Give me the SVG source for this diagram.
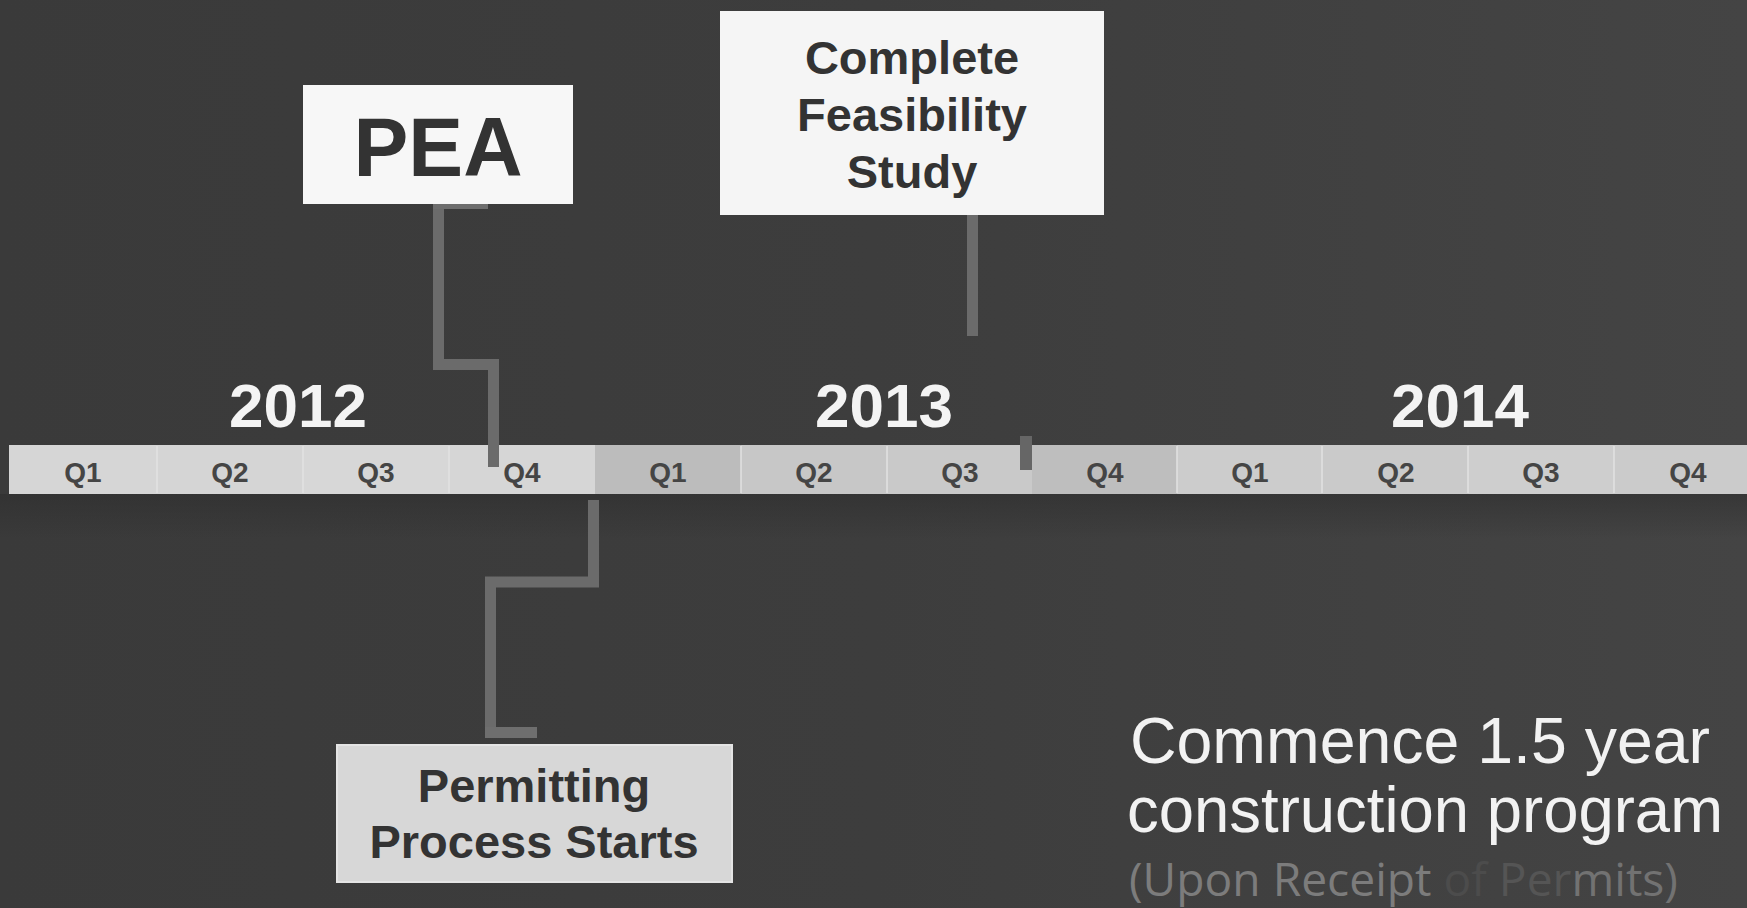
<svg xmlns="http://www.w3.org/2000/svg" width="1747" height="908" viewBox="0 0 1747 908">
  <defs>
    <linearGradient id="bg" x1="0" y1="0" x2="1" y2="0">
      <stop offset="0" stop-color="#3a3a3a"/>
      <stop offset="0.5" stop-color="#3d3d3d"/>
      <stop offset="1" stop-color="#444444"/>
    </linearGradient>
    <linearGradient id="shade" x1="0" y1="0" x2="0" y2="1">
      <stop offset="0" stop-color="#2e2e2e" stop-opacity="0.6"/>
      <stop offset="1" stop-color="#2e2e2e" stop-opacity="0"/>
    </linearGradient>
    <style>
      .box-text { font-family: "Liberation Sans", Arial, sans-serif; font-weight: bold; fill: #333333; text-anchor: middle; }
      .year { font-family: "Liberation Sans", Arial, sans-serif; font-weight: bold; fill: #f4f4f4; font-size: 62px; text-anchor: middle; }
      .q { font-family: "Liberation Sans", Arial, sans-serif; font-weight: bold; fill: #454545; font-size: 28px; text-anchor: middle; }
      .conn { fill: none; stroke: #6b6b6b; stroke-width: 11; stroke-linejoin: miter; stroke-linecap: butt; }
      .tab { fill: #6e6e6e; }
      .note { font-family: "Liberation Sans", Arial, sans-serif; fill: #f2f2f2; font-size: 64px; text-anchor: middle; }
      .sub { font-family: "Open Sans", "Liberation Sans", sans-serif; font-size: 46px; }
    </style>
  </defs>

  <rect x="0" y="0" width="1747" height="908" fill="url(#bg)"/>
  <rect x="0" y="494" width="1747" height="45" fill="url(#shade)"/>

  <!-- Timeline bar -->
  <g id="timeline">
    <rect x="9" y="445" width="1738" height="49" fill="#d3d3d3"/>
    <rect x="9" y="445" width="148" height="49" fill="#d6d6d6"/>
    <rect x="157" y="445" width="146" height="49" fill="#d5d5d5"/>
    <rect x="303" y="445" width="146" height="49" fill="#d7d7d7"/>
    <rect x="449" y="445" width="146" height="49" fill="#d6d6d6"/>
    <rect x="595" y="445" width="146" height="49" fill="#bcbcbc"/>
    <rect x="741" y="445" width="146" height="49" fill="#c7c7c7"/>
    <rect x="887" y="445" width="145" height="49" fill="#c9c9c9"/>
    <rect x="1032" y="445" width="145" height="49" fill="#bebebe"/>
    <rect x="1177" y="445" width="145" height="49" fill="#cccccc"/>
    <rect x="1322" y="445" width="146" height="49" fill="#cacaca"/>
    <rect x="1468" y="445" width="146" height="49" fill="#cecece"/>
    <rect x="1614" y="445" width="133" height="49" fill="#cbcbcb"/>
    <g stroke="#e2e2e2" stroke-width="1.5">
      <line x1="157" y1="446" x2="157" y2="493"/>
      <line x1="303" y1="446" x2="303" y2="493"/>
      <line x1="449" y1="446" x2="449" y2="493"/>
      <line x1="741" y1="446" x2="741" y2="493"/>
      <line x1="887" y1="446" x2="887" y2="493"/>
      <line x1="1177" y1="446" x2="1177" y2="493"/>
      <line x1="1322" y1="446" x2="1322" y2="493"/>
      <line x1="1468" y1="446" x2="1468" y2="493"/>
      <line x1="1614" y1="446" x2="1614" y2="493"/>
    </g>
    <text class="q" x="83" y="482">Q1</text>
    <text class="q" x="230" y="482">Q2</text>
    <text class="q" x="376" y="482">Q3</text>
    <text class="q" x="522" y="482">Q4</text>
    <text class="q" x="668" y="482">Q1</text>
    <text class="q" x="814" y="482">Q2</text>
    <text class="q" x="960" y="482">Q3</text>
    <text class="q" x="1105" y="482">Q4</text>
    <text class="q" x="1250" y="482">Q1</text>
    <text class="q" x="1396" y="482">Q2</text>
    <text class="q" x="1541" y="482">Q3</text>
    <text class="q" x="1688" y="482">Q4</text>
    <text class="year" x="298" y="427">2012</text>
    <text class="year" x="884" y="427">2013</text>
    <text class="year" x="1460" y="427">2014</text>
  </g>

  <!-- Connectors -->
  <g id="connectors">
    <path class="conn" d="M 438.5 204 V 364.5 H 493.5 V 467"/>
    <rect class="tab" x="433" y="199" width="55" height="10"/>
    <path class="conn" d="M 972.5 208 V 336"/>
    <rect class="tab" x="967" y="204" width="53" height="11"/>
    <rect x="1020" y="436" width="12" height="34" fill="#666666"/>
    <path class="conn" d="M 593.5 500 V 582 H 490.5 V 733"/>
    <rect class="tab" x="485" y="727" width="52" height="11"/>
  </g>

  <!-- PEA -->
  <g id="node-pea">
    <rect x="303" y="85" width="270" height="119" fill="#f7f7f7"/>
    <text class="box-text" x="438" y="176" font-size="84" textLength="169" lengthAdjust="spacingAndGlyphs">PEA</text>
  </g>

  <!-- Feasibility -->
  <g id="node-feasibility">
    <rect x="720" y="11" width="384" height="204" fill="#f5f5f5"/>
    <text class="box-text" x="912" y="74" font-size="47">Complete</text>
    <text class="box-text" x="912" y="131" font-size="47">Feasibility</text>
    <text class="box-text" x="912" y="188" font-size="47">Study</text>
  </g>

  <!-- Permitting -->
  <g id="node-permitting">
    <rect x="337" y="745" width="395" height="137" fill="#d7d7d7" stroke="#e4e4e4" stroke-width="2"/>
    <text class="box-text" x="534" y="802" font-size="47">Permitting</text>
    <text class="box-text" x="534" y="858" font-size="47">Process Starts</text>
  </g>

  <!-- Construction note -->
  <g id="node-construction">
    <text class="note" x="1420" y="763" textLength="580" lengthAdjust="spacingAndGlyphs">Commence 1.5 year</text>
    <text class="note" x="1425" y="832" textLength="596" lengthAdjust="spacingAndGlyphs">construction program</text>
    <text class="sub" x="1129" y="896" textLength="549" lengthAdjust="spacingAndGlyphs"><tspan fill="#7c7c7c">(Upon Receipt </tspan><tspan fill="#4c4c4c">of </tspan><tspan fill="#555555">Per</tspan><tspan fill="#727272">mits)</tspan></text>
  </g>
</svg>
